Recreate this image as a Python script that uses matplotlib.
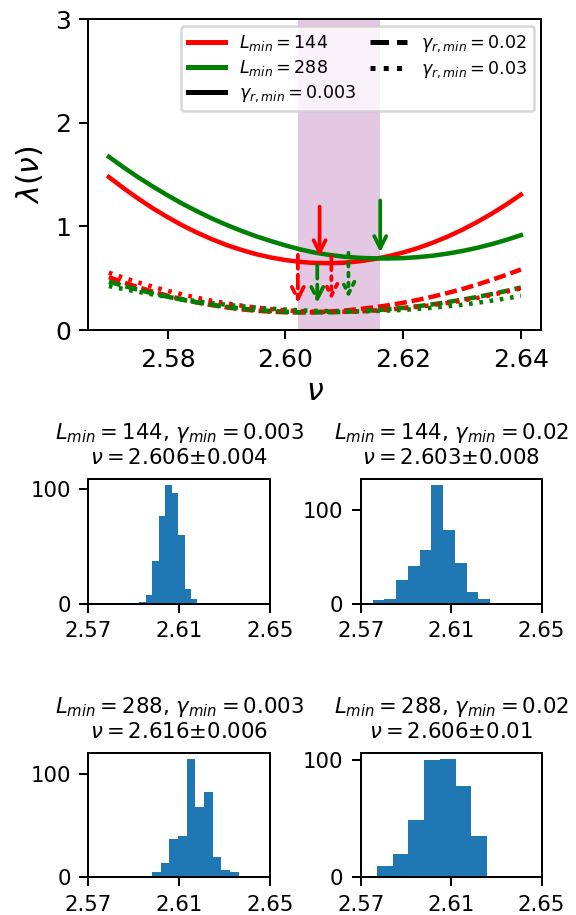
# %%
# lambda(nu) curves + bootstrap histograms of nu
import numpy as np
import matplotlib
matplotlib.use('Agg')
import matplotlib.pyplot as plt
from matplotlib.lines import Line2D

# %%
# data
nu = [2.5700, 2.5725, 2.5750, 2.5775, 2.5800, 2.5825, 2.5850, 2.5875,
      2.5900, 2.5925, 2.5950, 2.5975, 2.6000, 2.6025, 2.6050, 2.6075,
      2.6100, 2.6125, 2.6150, 2.6175, 2.6200, 2.6225, 2.6250, 2.6275,
      2.6300, 2.6325, 2.6350, 2.6375, 2.6400]

lam_144_0003 = [1.476, 1.368, 1.267, 1.173, 1.088, 1.009, 0.939, 0.876,
                0.820, 0.773, 0.732, 0.700, 0.675, 0.657, 0.647, 0.645,
                0.650, 0.663, 0.684, 0.712, 0.748, 0.791, 0.842, 0.900,
                0.966, 1.040, 1.121, 1.210, 1.306]
lam_288_0003 = [1.671, 1.569, 1.473, 1.383, 1.298, 1.218, 1.145, 1.076,
                1.014, 0.957, 0.905, 0.859, 0.816, 0.778, 0.747, 0.724,
                0.707, 0.697, 0.691, 0.690, 0.694, 0.703, 0.717, 0.737,
                0.762, 0.792, 0.828, 0.869, 0.915]
lam_144_002 = [0.510, 0.459, 0.412, 0.369, 0.331, 0.296, 0.266, 0.240,
               0.218, 0.200, 0.186, 0.177, 0.171, 0.170, 0.173, 0.179,
               0.188, 0.202, 0.219, 0.239, 0.263, 0.291, 0.322, 0.357,
               0.395, 0.437, 0.483, 0.532, 0.584]
lam_288_002 = [0.466, 0.426, 0.388, 0.353, 0.321, 0.292, 0.267, 0.244,
               0.224, 0.208, 0.194, 0.184, 0.176, 0.172, 0.170, 0.171,
               0.175, 0.181, 0.190, 0.201, 0.214, 0.230, 0.248, 0.269,
               0.293, 0.318, 0.346, 0.377, 0.410]
lam_144_003 = [0.553, 0.505, 0.459, 0.417, 0.378, 0.343, 0.311, 0.283,
               0.257, 0.236, 0.217, 0.202, 0.190, 0.182, 0.177, 0.175,
               0.176, 0.180, 0.187, 0.197, 0.209, 0.223, 0.241, 0.261,
               0.284, 0.309, 0.338, 0.369, 0.402]
lam_288_003 = [0.424, 0.395, 0.368, 0.343, 0.319, 0.298, 0.278, 0.260,
               0.244, 0.230, 0.217, 0.206, 0.198, 0.190, 0.185, 0.182,
               0.180, 0.180, 0.183, 0.188, 0.194, 0.204, 0.215, 0.229,
               0.244, 0.262, 0.283, 0.305, 0.330]

# estimated minima (arrows): order 0.003, 0.02, 0.03
arrow_nu_144 = [2.6058, 2.6021, 2.6078]
arrow_top_144 = [1.19, 0.725, 0.71]
arrow_tip_144 = [0.71, 0.26, 0.29]
arrow_nu_288 = [2.6161, 2.6054, 2.6107]
arrow_top_288 = [1.25, 0.63, 0.745]
arrow_tip_288 = [0.75, 0.26, 0.31]

# histograms: (L, gamma, nu, err), bin range and counts
hist_L = [144, 144, 288, 288]
hist_gamma = ['0.003', '0.02', '0.003', '0.02']
hist_nu = ['2.606', '2.603', '2.616', '2.606']
hist_err = ['0.004', '0.008', '0.006', '0.01']
hist_lo = [2.5925, 2.5753, 2.5980, 2.5772]
hist_hi = [2.6209, 2.6272, 2.6362, 2.6468]
hist_counts = [
    [2, 8, 37, 76, 103, 96, 60, 13, 4, 1],
    [4, 5, 25, 40, 57, 126, 78, 44, 13, 5],
    [5, 14, 37, 40, 114, 68, 82, 20, 7, 5],
    [10, 20, 49, 100, 101, 78, 35, 1, 1, 1],
]

# %%
fig = plt.figure(figsize=(3.2, 915 / 180), dpi=180)
ax = fig.add_axes([0.1533, 0.6393, 0.7868, 0.3399])

all_nu = arrow_nu_144 + arrow_nu_288
ax.axvspan(min(all_nu), max(all_nu), color='purple', alpha=0.22, lw=0)

styles = ['-', '--', ':']
dashes = [None, (2.7, 1.1), (0.8, 1.5)]
curves_144 = [lam_144_0003, lam_144_002, lam_144_003]
curves_288 = [lam_288_0003, lam_288_002, lam_288_003]
for i in range(3):
    for c, lam in [('r', curves_144[i]), ('g', curves_288[i])]:
        line, = ax.plot(nu, lam, color=c, linestyle=styles[i], lw=1.8)
        if dashes[i] is not None:
            line.set_dashes(dashes[i])

# arrows pointing to the minima
for i in range(3):
    ax.annotate('', xy=(arrow_nu_144[i], arrow_tip_144[i]),
                xytext=(arrow_nu_144[i], arrow_top_144[i]),
                arrowprops=dict(arrowstyle='->', color='r', lw=1.5,
                                linestyle=styles[i], shrinkA=0, shrinkB=0,
                                mutation_scale=12))
    ax.annotate('', xy=(arrow_nu_288[i], arrow_tip_288[i]),
                xytext=(arrow_nu_288[i], arrow_top_288[i]),
                arrowprops=dict(arrowstyle='->', color='g', lw=1.5,
                                linestyle=styles[i], shrinkA=0, shrinkB=0,
                                mutation_scale=12))

handles = [Line2D([], [], color='r', lw=2),
           Line2D([], [], color='g', lw=2),
           Line2D([], [], color='k', lw=2, ls='-'),
           Line2D([], [], color='k', lw=2, ls='--'),
           Line2D([], [], color='k', lw=2, ls=':')]
labels = [r'$L_{min}=144$', r'$L_{min}=288$', r'$\gamma_{r,min}=0.003$',
          r'$\gamma_{r,min}=0.02$', r'$\gamma_{r,min}=0.03$']
ax.legend(handles, labels, ncol=2, loc='upper right', fontsize=7,
          handlelength=2.1, labelspacing=0.3, columnspacing=0.8,
          borderaxespad=0.4)

ax.set_ylim(0, 3)
ax.set_yticks([0, 1, 2, 3])
ax.set_xticks([2.58, 2.60, 2.62, 2.64])
ax.set_xlabel(r'$\nu$', fontsize=12, labelpad=2)
ax.set_ylabel(r'$\lambda(\nu)$', fontsize=12)

# %%
# histograms of nu
pos = [[0.1533, 0.3399, 0.3155, 0.1363],
       [0.6262, 0.3399, 0.3142, 0.1363],
       [0.1533, 0.0412, 0.3155, 0.1355],
       [0.6262, 0.0412, 0.3142, 0.1355]]
for k in range(4):
    hx = fig.add_axes(pos[k])
    edges = np.linspace(hist_lo[k], hist_hi[k], len(hist_counts[k]) + 1)
    centers = 0.5 * (edges[:-1] + edges[1:])
    hx.hist(centers, bins=edges, weights=hist_counts[k])
    hx.set_xlim(2.57, 2.65)
    hx.set_xticks([2.57, 2.61, 2.65])
    hx.set_yticks([0, 100])
    hx.tick_params(labelsize=8.5)
    hx.set_title(r'$L_{min}=%d$, $\gamma_{min}=%s$' % (hist_L[k], hist_gamma[k])
                 + '\n' + r'$\nu=%s$' % hist_nu[k] + '±' + r'$%s$' % hist_err[k],
                 fontsize=8.5)

fig.savefig('out.png', dpi=180)
